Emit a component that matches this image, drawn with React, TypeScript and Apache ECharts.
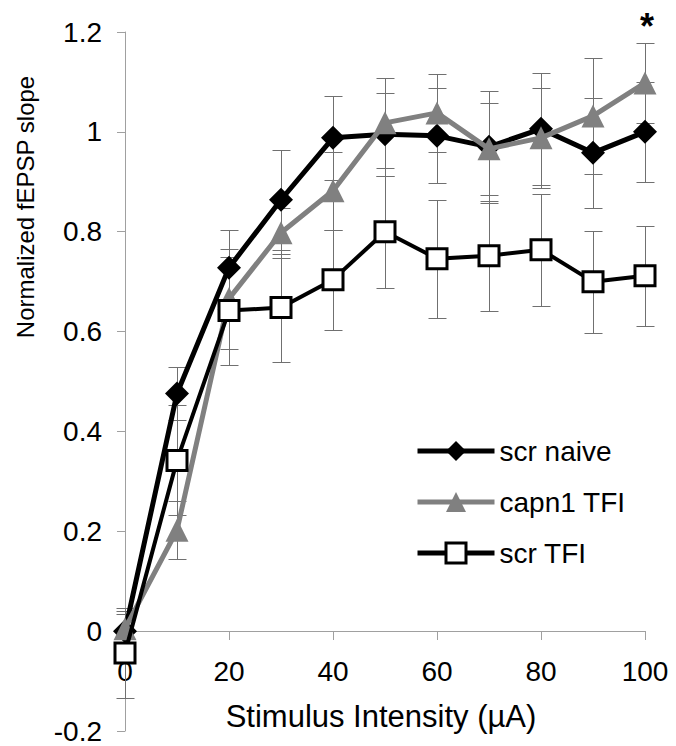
import React, { useEffect, useRef } from 'react';
import * as echarts from 'echarts';

const intensities = [0, 10, 20, 30, 40, 50, 60, 70, 80, 90, 100];
const xTicks = [0, 20, 40, 60, 80, 100];
const yTicks = [-0.2, 0, 0.2, 0.4, 0.6, 0.8, 1, 1.2];

const seriesNames = ['scr naive', 'capn1 TFI', 'scr TFI'];

const scrNaive = [0, 0.476, 0.728, 0.864, 0.988, 0.995, 0.992, 0.97, 1.006, 0.958, 1.0];
const scrNaiveErr = [0.04, 0.054, 0.076, 0.1, 0.084, 0.083, 0.095, 0.112, 0.112, 0.11, 0.1];

const capn1Tfi = [0.005, 0.202, 0.666, 0.798, 0.882, 1.018, 1.038, 0.966, 0.988, 1.032, 1.098];
const capn1TfiErr = [0.03, 0.058, 0.1, 0.05, 0.078, 0.09, 0.078, 0.092, 0.1, 0.116, 0.08];

const scrTfi = [-0.044, 0.342, 0.642, 0.648, 0.704, 0.8, 0.746, 0.752, 0.764, 0.7, 0.712];
const scrTfiErr = [0.09, 0.11, 0.108, 0.108, 0.1, 0.112, 0.118, 0.11, 0.112, 0.102, 0.1];

const xTitle = 'Stimulus Intensity (µA)';
const yTitle = 'Normalized fEPSP slope';
const significance = '*';

export default function App() {
  const ref = useRef<HTMLDivElement>(null);

  useEffect(() => {
    if (!ref.current) return;
    const chart = echarts.init(ref.current, null, { renderer: 'svg' });
    const font = "'Liberation Sans', Arial, Helvetica, sans-serif";

    const gridTop = 32;
    const gridBottom = 15;
    const plotH = 746 - gridTop - gridBottom;
    const yMin = yTicks[0];
    const yMax = yTicks[yTicks.length - 1];
    // shift the x axis up so that it sits on the value 0
    const zeroOffset = -Math.round(((0 - yMin) / (yMax - yMin)) * plotH);

    const mkErr = (vals: number[], errs: number[]) => ({
      type: 'custom',
      silent: true,
      clip: false,
      z: 1,
      data: intensities.map((x, i) => [x, vals[i] - errs[i], vals[i] + errs[i]]),
      renderItem: (_params: any, api: any) => {
        const lo = api.coord([api.value(0), api.value(1)]);
        const hi = api.coord([api.value(0), api.value(2)]);
        const hw = 9;
        const cx = Math.round(lo[0]) + 0.5;
        const ly = Math.round(lo[1]) + 0.5;
        const hy = Math.round(hi[1]) + 0.5;
        const style = { stroke: '#707070', lineWidth: 1 };
        return {
          type: 'group',
          children: [
            { type: 'line', shape: { x1: cx, y1: ly, x2: cx, y2: hy }, style },
            { type: 'line', shape: { x1: cx - hw, y1: ly, x2: cx + hw, y2: ly }, style },
            { type: 'line', shape: { x1: cx - hw, y1: hy, x2: cx + hw, y2: hy }, style },
          ],
        };
      },
    });

    const option: any = {
      animation: false,
      backgroundColor: '#fff',
      grid: { left: 125, right: 31, top: gridTop, bottom: gridBottom, outerBoundsMode: 'none', containLabel: false },
      xAxis: {
        type: 'value',
        min: xTicks[0],
        max: xTicks[xTicks.length - 1],
        interval: xTicks[1] - xTicks[0],
        position: 'bottom',
        offset: zeroOffset,
        axisLine: { show: true, onZero: false, lineStyle: { color: '#a0a0a0', width: 1 } },
        axisTick: { show: true, length: 9, lineStyle: { color: '#a0a0a0' } },
        axisLabel: { margin: 26, fontSize: 28, color: '#000', fontFamily: font },
        splitLine: { show: false },
      },
      yAxis: {
        type: 'value',
        min: yMin,
        max: yMax,
        interval: 0.2,
        axisLine: { show: true, lineStyle: { color: '#a0a0a0', width: 1 } },
        axisTick: { show: true, length: 8, lineStyle: { color: '#a0a0a0' } },
        axisLabel: {
          margin: 23,
          fontSize: 28,
          color: '#000',
          fontFamily: font,
          formatter: (v: number) => String(Math.round(v * 10) / 10),
        },
        splitLine: { show: false },
      },
      legend: {
        orient: 'vertical',
        left: 410,
        top: 432,
        itemWidth: 77,
        itemHeight: 25,
        itemGap: 23,
        data: [
          { name: seriesNames[0], lineStyle: { width: 5 } },
          { name: seriesNames[1], lineStyle: { width: 5 } },
          { name: seriesNames[2], lineStyle: { width: 5 }, itemStyle: { borderWidth: 3, borderColor: '#000', color: '#fff' } },
        ],
        textStyle: { fontSize: 28, color: '#000', fontFamily: font },
      },
      graphic: [
        {
          type: 'text',
          x: 25,
          y: 207,
          rotation: Math.PI / 2,
          style: {
            text: yTitle,
            fontSize: 24,
            fontFamily: font,
            fill: '#000',
            align: 'center',
            verticalAlign: 'middle',
          },
        },
        {
          type: 'text',
          x: 381,
          y: 716,
          style: {
            text: xTitle,
            fontSize: 31,
            fontFamily: font,
            fill: '#000',
            align: 'center',
            verticalAlign: 'middle',
          },
        },
        {
          type: 'text',
          x: 647,
          y: 26,
          style: {
            text: significance,
            fontSize: 36,
            fontWeight: 'bold',
            fontFamily: font,
            fill: '#000',
            align: 'center',
            verticalAlign: 'middle',
          },
        },
      ],
      series: [
        mkErr(scrNaive, scrNaiveErr),
        mkErr(capn1Tfi, capn1TfiErr),
        mkErr(scrTfi, scrTfiErr),
        {
          type: 'line',
          name: seriesNames[0],
          data: intensities.map((x, i) => [x, scrNaive[i]]),
          symbol: 'diamond',
          symbolSize: 24,
          lineStyle: { color: '#000', width: 5 },
          itemStyle: { color: '#000' },
          z: 3,
        },
        {
          type: 'line',
          name: seriesNames[1],
          data: intensities.map((x, i) => [x, capn1Tfi[i]]),
          symbol: 'triangle',
          symbolSize: 23,
          lineStyle: { color: '#808080', width: 5 },
          itemStyle: { color: '#808080' },
          z: 4,
        },
        {
          type: 'line',
          name: seriesNames[2],
          data: intensities.map((x, i) => [x, scrTfi[i]]),
          symbol: 'rect',
          symbolSize: 20,
          lineStyle: { color: '#000', width: 4 },
          itemStyle: { color: '#fff', borderColor: '#000', borderWidth: 3 },
          z: 5,
        },
      ],
    };

    chart.setOption(option);
    return () => chart.dispose();
  }, []);

  return (
    <div
      ref={ref}
      style={{ position: 'absolute', left: 0, top: 0, width: 676, height: 746, background: '#fff' }}
    />
  );
}
